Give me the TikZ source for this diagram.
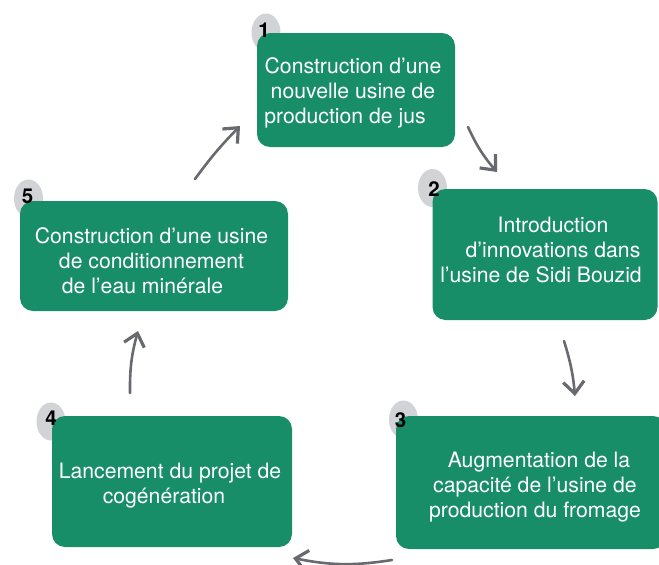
\documentclass[tikz,border=0pt]{standalone}
\usepackage{fontspec}
\setmainfont{TeX Gyre Heros}
\usetikzlibrary{arrows.meta,shapes.geometric}

\definecolor{vert}{RGB}{24,142,104}
\definecolor{grisclair}{RGB}{209,211,214}
\definecolor{grisfleche}{RGB}{104,106,112}

\begin{document}
\begin{tikzpicture}[x=1pt,y=-1pt,
  etape/.style={fill=vert,rounded corners=13pt,inner sep=0pt},
  texte/.style={text=white,align=center,inner sep=0pt,
    font=\fontsize{21.2}{24.8}\selectfont},
  pastille/.style={ellipse,fill=grisclair,minimum width=29pt,minimum height=38pt,
    inner sep=0pt},
  numero/.style={inner sep=0pt,font=\fontsize{20.5}{20.5}\selectfont\bfseries},
  fleche/.style={grisfleche,line width=2.6pt,line cap=round,
    -{Straight Barb[length=12pt,width=21pt,line width=3.2pt]}}]
  \useasboundingbox (0,0) rectangle (659,565);
  % pastilles (sous les cases)
  \node[pastille] (p1) at (266,32.5) {};
  \node[pastille] (p2) at (432.5,188) {};
  \node[pastille] (p3) at (403.5,419.5) {};
  \node[pastille] (p4) at (51,421.5) {};
  \node[pastille] (p5) at (28.5,198.5) {};
  % cases
  \node[etape,minimum width=198pt,minimum height=114pt] (e1) at (356,90) {};
  \node[etape,minimum width=225pt,minimum height=131pt] (e2) at (545,254.5) {};
  \node[etape,minimum width=270pt,minimum height=133pt] (e3) at (531,482.5) {};
  \node[etape,minimum width=240pt,minimum height=131pt] (e4) at (172,481.5) {};
  \node[etape,minimum width=268pt,minimum height=110pt] (e5) at (154,256) {};
  % numeros (par-dessus)
  \node[numero] (n1) at (264,30) {1};
  \node[numero] (n2) at (434,189) {2};
  \node[numero] (n3) at (400.5,420.5) {3};
  \node[numero] (n4) at (51,418.5) {4};
  \node[numero] (n5) at (27.5,196.5) {5};
  % textes
  \node[texte] (t1) at (353,93)
    {Construction d’une\\nouvelle usine de\\production de jus\hspace*{16pt}};
  \node[texte] (t2) at (541,250)
    {\hspace*{24pt}Introduction\\\hspace*{24pt}d’innovations dans\\l’usine de Sidi Bouzid};
  \node[texte] (t3) at (535,487)
    {\hspace*{8pt}Augmentation de la\\capacité de l’usine de\\production du fromage};
  \node[texte] (t4) at (170,485.5)
    {Lancement du projet de\\cogénération\hspace*{12pt}};
  \node[texte] (t5) at (151.5,261)
    {Construction d’une usine\\de conditionnement\\de l’eau minérale\hspace*{18pt}};
  % extremites des fleches
  \coordinate (f1a) at (468,127);
  \coordinate (f1b) at (497,172);
  \coordinate (f2a) at (564,341);
  \coordinate (f2b) at (575,396);
  \coordinate (f3a) at (392,560);
  \coordinate (f3b) at (293,558);
  \coordinate (f4a) at (130,393);
  \coordinate (f4b) at (138,331);
  \coordinate (f5a) at (195,179);
  \coordinate (f5b) at (240,126);
  \draw[fleche] (f1a) to[bend right=8] (f1b);
  \draw[fleche] (f2a) to[bend left=6] (f2b);
  \draw[fleche] (f3a) to[bend left=10] (f3b);
  \draw[fleche] (f4a) to[bend left=8] (f4b);
  \draw[fleche] (f5a) to[bend left=4] (f5b);
\end{tikzpicture}
\end{document}
